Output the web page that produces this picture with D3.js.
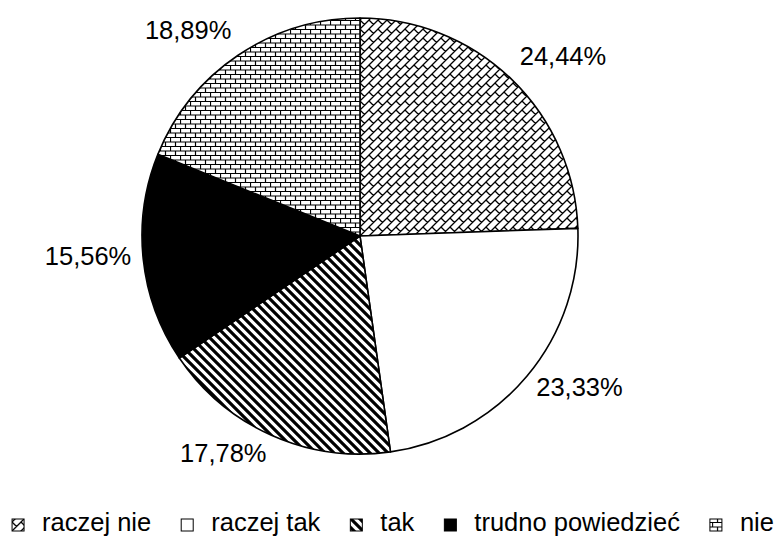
<!DOCTYPE html>
<html><head><meta charset="utf-8">
<script src="https://cdn.jsdelivr.net/npm/d3@7"></script>
<style>body{margin:0;background:#fff}svg{display:block}text{font-family:"Liberation Sans",Arial,sans-serif}</style>
</head><body>
<svg id="c" width="780" height="538"></svg>
<script>
const categories = ["raczej nie", "raczej tak", "tak", "trudno powiedzieć", "nie"];
const values = [24.44, 23.33, 17.78, 15.56, 18.89];
const labels = ["24,44%", "23,33%", "17,78%", "15,56%", "18,89%"];
const fills = ["url(#diagBrick)", "#ffffff", "url(#stripes)", "#000000", "url(#hBrick)"];

const svg = d3.select("#c");
const W = 780, H = 538;
svg.append("rect").attr("width", W).attr("height", H).attr("fill", "#fff");

const defs = svg.append("defs");
// diagonal brick
const p1 = defs.append("pattern").attr("id", "diagBrick").attr("patternUnits", "userSpaceOnUse")
  .attr("width", 9).attr("height", 9);
p1.append("rect").attr("width", 9).attr("height", 9).attr("fill", "#fff");
p1.append("path").attr("d", "M0,9 L9,0 M-1,1 L1,-1 M8,10 L10,8 M0,0 L4.5,4.5")
  .attr("stroke", "#000").attr("stroke-width", 1.3).attr("fill", "none");
// stripes (wide downward diagonal)
const p2 = defs.append("pattern").attr("id", "stripes").attr("patternUnits", "userSpaceOnUse")
  .attr("width", 9).attr("height", 9);
p2.append("rect").attr("width", 9).attr("height", 9).attr("fill", "#fff");
p2.append("path").attr("d", "M-1,-1 L10,10 M-3,6 L3,12 M6,-3 L12,3")
  .attr("stroke", "#000").attr("stroke-width", 3.2).attr("fill", "none");
// horizontal brick
const p3 = defs.append("pattern").attr("id", "hBrick").attr("patternUnits", "userSpaceOnUse")
  .attr("width", 10).attr("height", 9);
p3.append("rect").attr("width", 10).attr("height", 9).attr("fill", "#fff");
p3.append("path").attr("d", "M0,0.5 H10 M0,5 H10 M0.5,0.5 V5 M5.5,5 V9")
  .attr("stroke", "#000").attr("stroke-width", 1.2).attr("fill", "none");

const cx = 360, cy = 236, r = 218;
const pie = d3.pie().sort(null).value(d => d)(values);
const arc = d3.arc().innerRadius(0).outerRadius(r);

const g = svg.append("g").attr("transform", `translate(${cx},${cy})`);
g.selectAll("path.slice").data(pie).join("path")
  .attr("class", "slice")
  .attr("d", arc)
  .attr("fill", (d, i) => fills[i])
  .attr("stroke", "#000").attr("stroke-width", 1.6).attr("stroke-linejoin", "round");

const fs = 25.5;
const lr = 230;
g.selectAll("text.lab").data(pie).join("text")
  .attr("class", "lab")
  .attr("font-size", fs)
  .attr("fill", "#000")
  .attr("text-anchor", d => Math.sin((d.startAngle + d.endAngle) / 2) >= 0 ? "start" : "end")
  .attr("dominant-baseline", "central")
  .attr("x", d => lr * Math.sin((d.startAngle + d.endAngle) / 2))
  .attr("y", d => {
    const a = (d.startAngle + d.endAngle) / 2;
    return -lr * Math.cos(a) - Math.cos(a) * fs / 2 - 5;
  })
  .text((d, i) => labels[i]);

// legend
const leg = svg.append("g");
const sw = 12, gapSwText = 18, gapItem = 30, legBase = 531;
let x = 0;
categories.forEach((c, i) => {
  const it = leg.append("g");
  it.append("rect").attr("x", x).attr("y", legBase - sw).attr("width", sw).attr("height", sw)
    .attr("fill", fills[i]).attr("stroke", "#000").attr("stroke-width", 1);
  const t = it.append("text").attr("x", x + sw + gapSwText).attr("y", legBase)
    .attr("font-size", fs).attr("fill", "#000").text(c);
  const tw = t.node().getComputedTextLength();
  x += sw + gapSwText + tw + gapItem;
});
const total = x - gapItem;
leg.attr("transform", `translate(${(W - total) / 2 + 3},0)`);
</script>
</body></html>
